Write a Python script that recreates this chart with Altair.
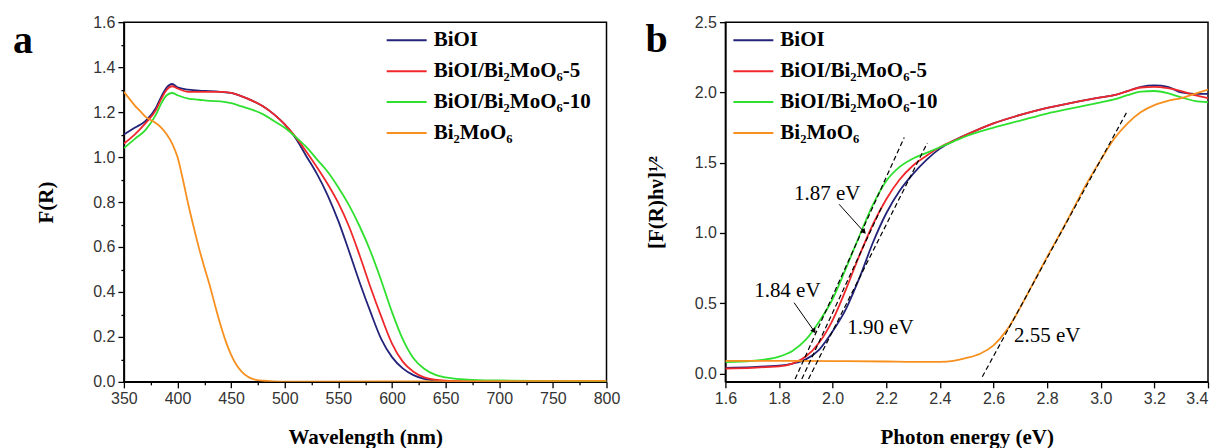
import altair as alt
import pandas as pd

# ---------------- Panel a : F(R) vs wavelength ----------------
wl = [350, 360, 370, 380, 385, 390, 395, 400, 410, 420, 430, 440, 450, 460, 470, 480, 490,
      500, 510, 520, 530, 540, 550, 560, 570, 580, 590, 600, 610, 620, 630, 640, 650, 660,
      670, 680, 700, 750, 800]
a_bioi = [1.10, 1.13, 1.16, 1.22, 1.27, 1.31, 1.325, 1.31, 1.30, 1.295, 1.293, 1.29, 1.285,
          1.27, 1.25, 1.225, 1.19, 1.145, 1.085, 1.005, 0.925, 0.83, 0.715, 0.58, 0.44, 0.31,
          0.19, 0.11, 0.06, 0.03, 0.013, 0.006, 0.003, 0.002, 0.002, 0.002, 0.002, 0.002, 0.002]
a_bm5 = [1.06, 1.10, 1.15, 1.21, 1.26, 1.30, 1.315, 1.305, 1.29, 1.29, 1.29, 1.29, 1.285,
         1.27, 1.25, 1.225, 1.19, 1.145, 1.09, 1.025, 0.955, 0.88, 0.795, 0.69, 0.56, 0.42,
         0.29, 0.17, 0.09, 0.045, 0.02, 0.01, 0.005, 0.003, 0.002, 0.002, 0.002, 0.002, 0.002]
a_bm10 = [1.04, 1.08, 1.12, 1.19, 1.24, 1.275, 1.285, 1.275, 1.26, 1.255, 1.25, 1.248, 1.24,
          1.225, 1.21, 1.19, 1.16, 1.13, 1.09, 1.045, 0.99, 0.935, 0.865, 0.785, 0.69, 0.58,
          0.45, 0.31, 0.19, 0.105, 0.058, 0.032, 0.02, 0.013, 0.01, 0.008, 0.006, 0.004, 0.003]
wl_bmo = [350, 355, 360, 365, 370, 375, 380, 385, 390, 395, 400, 405, 410, 415, 420, 425, 430,
          435, 440, 445, 450, 455, 460, 465, 470, 480, 490, 500, 600, 700, 800]
a_bmo = [1.29, 1.26, 1.23, 1.205, 1.18, 1.165, 1.15, 1.13, 1.10, 1.06, 1.00, 0.90, 0.79, 0.69,
         0.595, 0.51, 0.43, 0.34, 0.255, 0.18, 0.12, 0.075, 0.045, 0.025, 0.013, 0.005, 0.002,
         0.001, 0.002, 0.003, 0.004]

# ---------------- Panel b : Tauc plot ----------------
ev = [1.6, 1.7, 1.75, 1.8, 1.85, 1.9, 1.95, 2.0, 2.05, 2.1, 2.15, 2.2, 2.25, 2.3, 2.35, 2.4,
      2.45, 2.5, 2.6, 2.7, 2.8, 2.9, 3.0, 3.05, 3.1, 3.15, 3.2, 3.25, 3.3, 3.35, 3.4]
b_bioi = [0.04, 0.045, 0.05, 0.055, 0.07, 0.10, 0.17, 0.30, 0.46, 0.68, 0.93, 1.14, 1.30, 1.42,
          1.52, 1.60, 1.655, 1.70, 1.78, 1.84, 1.89, 1.93, 1.965, 1.98, 2.01, 2.04, 2.05, 2.04,
          2.00, 1.99, 1.99]
b_bm5 = [0.035, 0.04, 0.045, 0.05, 0.07, 0.12, 0.22, 0.38, 0.60, 0.84, 1.06, 1.24, 1.38, 1.48,
         1.55, 1.61, 1.655, 1.70, 1.78, 1.84, 1.89, 1.93, 1.965, 1.98, 2.01, 2.035, 2.04, 2.03,
         2.01, 1.98, 1.96]
b_bm10 = [0.08, 0.09, 0.10, 0.12, 0.16, 0.24, 0.37, 0.53, 0.75, 0.98, 1.20, 1.37, 1.47, 1.53,
          1.57, 1.61, 1.65, 1.69, 1.75, 1.80, 1.85, 1.89, 1.93, 1.95, 1.98, 2.005, 2.01, 1.995,
          1.965, 1.94, 1.93]
ev_bmo = [1.6, 1.8, 2.0, 2.2, 2.3, 2.4, 2.45, 2.5, 2.55, 2.6, 2.65, 2.7, 2.75, 2.8, 2.85, 2.9,
          2.95, 3.0, 3.05, 3.1, 3.15, 3.2, 3.25, 3.3, 3.35, 3.4]
b_bmo = [0.09, 0.09, 0.088, 0.085, 0.082, 0.083, 0.09, 0.11, 0.14, 0.20, 0.31, 0.47, 0.65, 0.83,
         1.00, 1.18, 1.36, 1.52, 1.67, 1.78, 1.86, 1.91, 1.94, 1.96, 1.99, 2.02]

# tangent (dashed) lines
tan_x1 = [1.86, 1.885, 1.91, 2.558]
tan_y1 = [-0.04, -0.04, -0.04, -0.024]
tan_x2 = [2.267, 2.187, 2.353, 3.10]
tan_y2 = [1.68, 1.20, 1.64, 1.87]

# annotations
ann_text = ["1.87 eV", "1.84 eV", "1.90 eV", "2.55 eV"]
ann_x = [1.980, 1.831, 2.178, 2.80]
ann_y = [1.275, 0.584, 0.32, 0.264]

# arrows
arr_x1 = [2.024, 1.856]
arr_y1 = [1.204, 0.504]
arr_x2 = [2.117, 1.931]
arr_y2 = [1.007, 0.301]
arr_angle = [138, 145]

names = ["BiOI", "BiOI/Bi₂MoO₆-5", "BiOI/Bi₂MoO₆-10", "Bi₂MoO₆"]
colors = ["#23237a", "#f0282c", "#2fe02f", "#f7901e"]

SERIF = "Liberation Serif"
SANS = "Liberation Sans"


def long(xs, ys, name, k):
    return pd.DataFrame({"x": xs, "y": ys, "s": name, "k": k})


dfa = pd.concat([long(wl, a_bioi, names[0], 0), long(wl, a_bm5, names[1], 1),
                 long(wl, a_bm10, names[2], 2), long(wl_bmo, a_bmo, names[3], 3)])
dfb = pd.concat([long(ev, b_bioi, names[0], 0), long(ev, b_bm5, names[1], 1),
                 long(ev, b_bm10, names[2], 2), long(ev_bmo, b_bmo, names[3], 3)])


def legend(lx):
    return alt.Legend(title=None, orient="none", legendX=lx, legendY=-3,
                      symbolType="stroke", symbolSize=1600, symbolStrokeWidth=2,
                      labelFont=SERIF, labelFontWeight="bold", labelFontSize=21,
                      labelColor="black", rowPadding=-1.5, labelOffset=6)


W, H = 483, 360


def ax(title, values, major_test, label_expr, tpad, **kw):
    return alt.Axis(title=title, values=values, labelExpr=label_expr,
                    tickSize={"condition": {"test": major_test, "value": 6}, "value": 3},
                    labelFlush=False, labelOverlap=False, titlePadding=tpad, **kw)


# ---- panel a ----
xa = alt.X("x:Q", scale=alt.Scale(domain=[350, 800], nice=False, zero=False),
           axis=ax("Wavelength (nm)", list(range(350, 801, 25)), "datum.value % 50 === 0",
                   "datum.value % 50 === 0 ? datum.label : ''", 20))
ya = alt.Y("y:Q", scale=alt.Scale(domain=[0, 1.6], nice=False, zero=False),
           axis=ax("F(R)", [i / 10 for i in range(0, 17)], "round(datum.value*10) % 2 === 0",
                   "round(datum.value*10) % 2 === 0 ? format(datum.value, '.1f') : ''", 36))
lines_a = alt.Chart(dfa).mark_line(strokeWidth=1.8, clip=True, interpolate="monotone").encode(
    x=xa, y=ya,
    color=alt.Color("s:N", scale=alt.Scale(domain=names, range=colors), legend=legend(262)),
    order="k:Q")
lab_a = alt.Chart(pd.DataFrame({"t": ["a"]})).mark_text(
    font=SERIF, fontWeight="bold", fontSize=40, align="left", baseline="alphabetic",
    color="black").encode(text="t:N", x=alt.value(-111), y=alt.value(31))
panel_a = alt.layer(lines_a, lab_a).properties(width=W, height=H)

# ---- panel b ----
xb = alt.X("x:Q", scale=alt.Scale(domain=[1.6, 3.4], nice=False, zero=False),
           axis=ax("Photon energy (eV)", [round(1.6 + i * 0.1, 1) for i in range(19)],
                   "round(datum.value*10) % 2 === 0",
                   "round(datum.value*10) % 2 === 0 ? format(datum.value, '.1f') : ''", 20,
                   labelAlign={"condition": {"test": "datum.value > 3.35", "value": "right"},
                               "value": "center"}))
yb = alt.Y("y:Q", scale=alt.Scale(domain=[-0.06, 2.5], nice=False, zero=False),
           axis=ax("[F(R)hν]¹⁄²", [i * 0.25 for i in range(0, 11)], "round(datum.value*4) % 2 === 0",
                   "round(datum.value*4) % 2 === 0 ? format(datum.value, '.1f') : ''", 28))
lines_b = alt.Chart(dfb).mark_line(strokeWidth=1.8, clip=True, interpolate="monotone").encode(
    x=xb, y=yb,
    color=alt.Color("s:N", scale=alt.Scale(domain=names, range=colors), legend=legend(7)),
    order="k:Q")
tan_df = pd.DataFrame({"x": tan_x1, "y": tan_y1, "x2": tan_x2, "y2": tan_y2})
tangents = alt.Chart(tan_df).mark_rule(color="black", strokeDash=[5, 3], strokeWidth=1.2).encode(
    x="x:Q", y="y:Q", x2="x2:Q", y2="y2:Q")
arr_df = pd.DataFrame({"x": arr_x1, "y": arr_y1, "x2": arr_x2, "y2": arr_y2, "ang": arr_angle})
arrows = alt.Chart(arr_df).mark_rule(color="black", strokeWidth=1).encode(
    x="x:Q", y="y:Q", x2="x2:Q", y2="y2:Q")
heads = alt.Chart(arr_df).mark_point(shape="triangle-up", filled=True, size=35, color="black",
                                     opacity=1).encode(
    x="x2:Q", y="y2:Q", angle=alt.Angle("ang:Q", scale=alt.Scale(domain=[0, 360], range=[0, 360])))
ann_df = pd.DataFrame({"x": ann_x, "y": ann_y, "t": ann_text})
anns = alt.Chart(ann_df).mark_text(font=SERIF, fontSize=21, color="black").encode(
    x="x:Q", y="y:Q", text="t:N")
lab_b = alt.Chart(pd.DataFrame({"t": ["b"]})).mark_text(
    font=SERIF, fontWeight="bold", fontSize=40, align="left", baseline="alphabetic",
    color="black").encode(text="t:N", x=alt.value(-80), y=alt.value(30))
panel_b = alt.layer(lines_b, tangents, arrows, heads, anns, lab_b).properties(width=W, height=H)

chart = alt.hconcat(panel_a, panel_b, spacing=23).resolve_scale(
    color="independent", x="independent", y="independent").properties(
    padding={"left": 4, "top": 5, "right": 0, "bottom": 0}
).configure_view(stroke="black", strokeWidth=1.5).configure_axis(
    grid=False, domainColor="black", domainWidth=1.5, tickColor="black", tickWidth=1.3,
    labelFont=SANS, labelFontSize=16, labelColor="#333333", labelPadding=3,
    titleFont=SERIF, titleFontWeight="bold", titleFontSize=21, titleColor="black")

chart.save("out.html", embed_options={"renderer": "svg", "actions": False})
